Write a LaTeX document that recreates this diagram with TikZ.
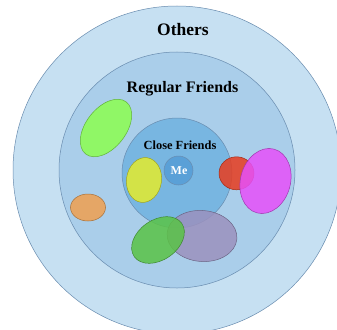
\documentclass[tikz,border=0pt]{standalone}
\usepackage{fontspec}
\setmainfont{Liberation Serif}
\usetikzlibrary{positioning}
\definecolor{ringedge}{RGB}{105,140,175}
\definecolor{ringouter}{RGB}{198,224,242}
\definecolor{ringmid}{RGB}{170,206,234}
\definecolor{ringinner}{RGB}{120,182,225}
\definecolor{ringme}{RGB}{90,160,215}
\definecolor{frlime}{RGB}{140,255,80}
\definecolor{fryellow}{RGB}{228,235,45}
\definecolor{frorange}{RGB}{240,160,80}
\definecolor{frred}{RGB}{232,60,30}
\definecolor{frmagenta}{RGB}{230,80,250}
\definecolor{frgreen}{RGB}{90,195,70}
\definecolor{frpurple}{RGB}{155,145,190}
\tikzset{
  ring/.style={draw=ringedge, line width=0.5pt},
  blob/.style={fill=#1, draw=#1!70!black, line width=0.5pt, fill opacity=0.85},
  ringlabel/.style={font=\bfseries}
}

\begin{document}
\begin{tikzpicture}[x=1pt, y=-1pt]
  \useasboundingbox (0,0) rectangle (337,329);
  \clip (0,0) rectangle (337,329);
  % Rings
  \fill[white] (0,0) rectangle (337,329);
  \draw[ring, fill=ringouter] (177,170) circle (164pt);
  \draw[ring, fill=ringmid] (177,170) circle (118pt);
  \draw[ring, fill=ringinner] (177,173) circle (55pt);
  \draw[ring, fill=ringme] (178.5,170.5) circle (14.5pt);
  % Groups of friends
  \draw[blob=frlime, rotate around={52:(106,128)}] (106,128) ellipse [x radius=33pt, y radius=20pt];
  \draw[blob=fryellow, rotate around={-8:(144,180)}] (144,180) ellipse [x radius=17.5pt, y radius=22.5pt];
  \draw[blob=frorange] (88,207.5) ellipse [x radius=17.5pt, y radius=13.5pt];
  \draw[blob=frpurple, rotate around={-5:(202,236)}] (202,236) ellipse [x radius=35pt, y radius=25.5pt];
  \draw[blob=frgreen, rotate around={35:(158,240)}] (158,240) ellipse [x radius=29pt, y radius=20pt];
  \draw[blob=frred] (236.5,173.3) ellipse [x radius=17.5pt, y radius=16.5pt];
  \draw[blob=frmagenta, rotate around={-15:(265.5,181)}] (265.5,181) ellipse [x radius=25pt, y radius=33pt];
  % Labels
  \node[ringlabel, font=\bfseries\fontsize{17.5}{20}\selectfont] (others) at (183,30) {Others};
  \node[ringlabel, font=\bfseries\fontsize{16}{19}\selectfont] (regular) at (182.5,89) {Regular Friends};
  \node[ringlabel, font=\bfseries\fontsize{12.4}{15}\selectfont] (close) at (180,145) {Close Friends};
  \node[ringlabel, white, font=\bfseries\fontsize{12}{14}\selectfont] (me) at (179,170.5) {Me};
\end{tikzpicture}
\end{document}
